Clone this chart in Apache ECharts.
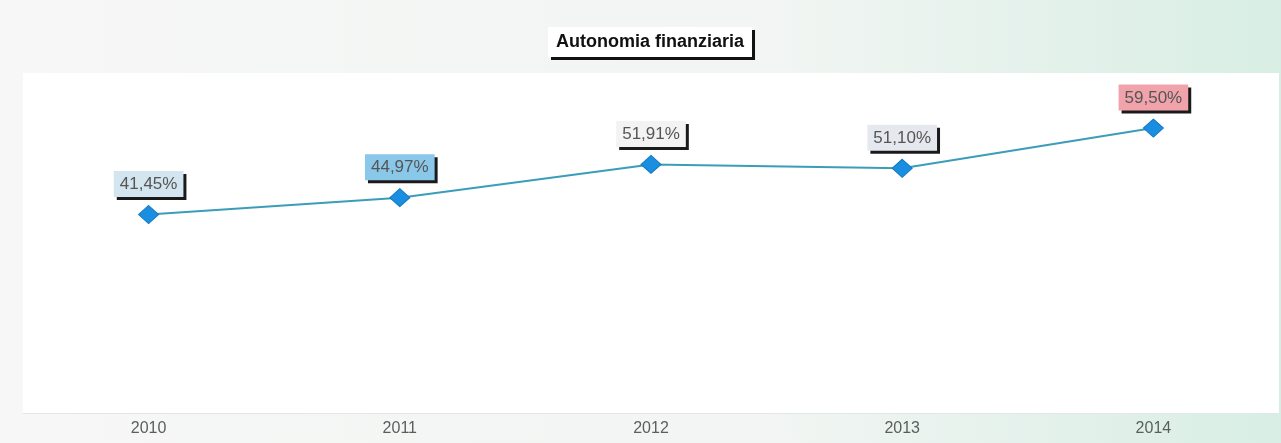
<!DOCTYPE html>
<html>
<head>
<meta charset="utf-8">
<script src="https://cdn.jsdelivr.net/npm/echarts@6/dist/echarts.min.js"></script>
<style>
html,body{margin:0;padding:0;}
#c{width:1281px;height:443px;}
</style>
</head>
<body>
<div id="c"></div>
<script>
var titleText = 'Autonomia finanziaria';
var years = ['2010', '2011', '2012', '2013', '2014'];
var values = [41.45, 44.97, 51.91, 51.10, 59.50];

var labelFills = ['#d3e5ee', '#8ac8ea', '#f3f3f3', '#e5e9ef', '#f0a3ab'];

function fmt(v) { return v.toFixed(2).replace('.', ',') + '%'; }

var chart = echarts.init(document.getElementById('c'));
chart.setOption({
  backgroundColor: {
    type: 'linear', x: 0, y: 0, x2: 1, y2: 0,
    colorStops: [
      {offset: 0, color: '#f6f7f6'},
      {offset: 0.6, color: '#f2f5f3'},
      {offset: 1, color: '#d8eee5'}
    ]
  },
  animation: false,
  title: {
    text: titleText,
    left: 548,
    top: 27,
    backgroundColor: '#ffffff',
    padding: [6, 8, 6, 8],
    shadowColor: '#111',
    shadowOffsetX: 3,
    shadowOffsetY: 3,
    shadowBlur: 0,
    textStyle: {
      fontFamily: 'Liberation Sans, Arial, sans-serif',
      fontSize: 18,
      fontWeight: 'bold',
      color: '#111'
    }
  },
  grid: {
    left: 23, right: 2, top: 73, bottom: 30,
    show: true, backgroundColor: '#ffffff', borderWidth: 0
  },
  xAxis: {
    type: 'category',
    data: years,
    boundaryGap: true,
    axisLine: {show: true, lineStyle: {color: '#e2e6e4', width: 1}},
    axisTick: {show: false},
    axisLabel: {
      color: '#5a5f5d', fontSize: 16, margin: 8,
      fontFamily: 'Liberation Sans, Arial, sans-serif'
    }
  },
  yAxis: {
    type: 'value',
    min: 0, max: 71,
    axisLine: {show: false},
    axisTick: {show: false},
    axisLabel: {show: false},
    splitLine: {show: false}
  },
  series: [{
    type: 'line',
    data: values.map(function (v, i) {
      return {
        value: v,
        label: {backgroundColor: labelFills[i]}
      };
    }),
    symbol: 'diamond',
    symbolSize: [20, 18],
    itemStyle: {color: '#1a8fe2', borderColor: '#1478c0', borderWidth: 1},
    lineStyle: {color: '#3b9db9', width: 2},
    label: {
      show: true,
      position: 'top',
      distance: 8,
      formatter: function (p) { return fmt(p.value); },
      fontFamily: 'Liberation Sans, Arial, sans-serif',
      fontSize: 17,
      color: '#555',
      padding: [5, 6, 4, 6],
      shadowColor: '#1a1a1a',
      shadowOffsetX: 3,
      shadowOffsetY: 3,
      shadowBlur: 0
    }
  }]
});
</script>
</body>
</html>
